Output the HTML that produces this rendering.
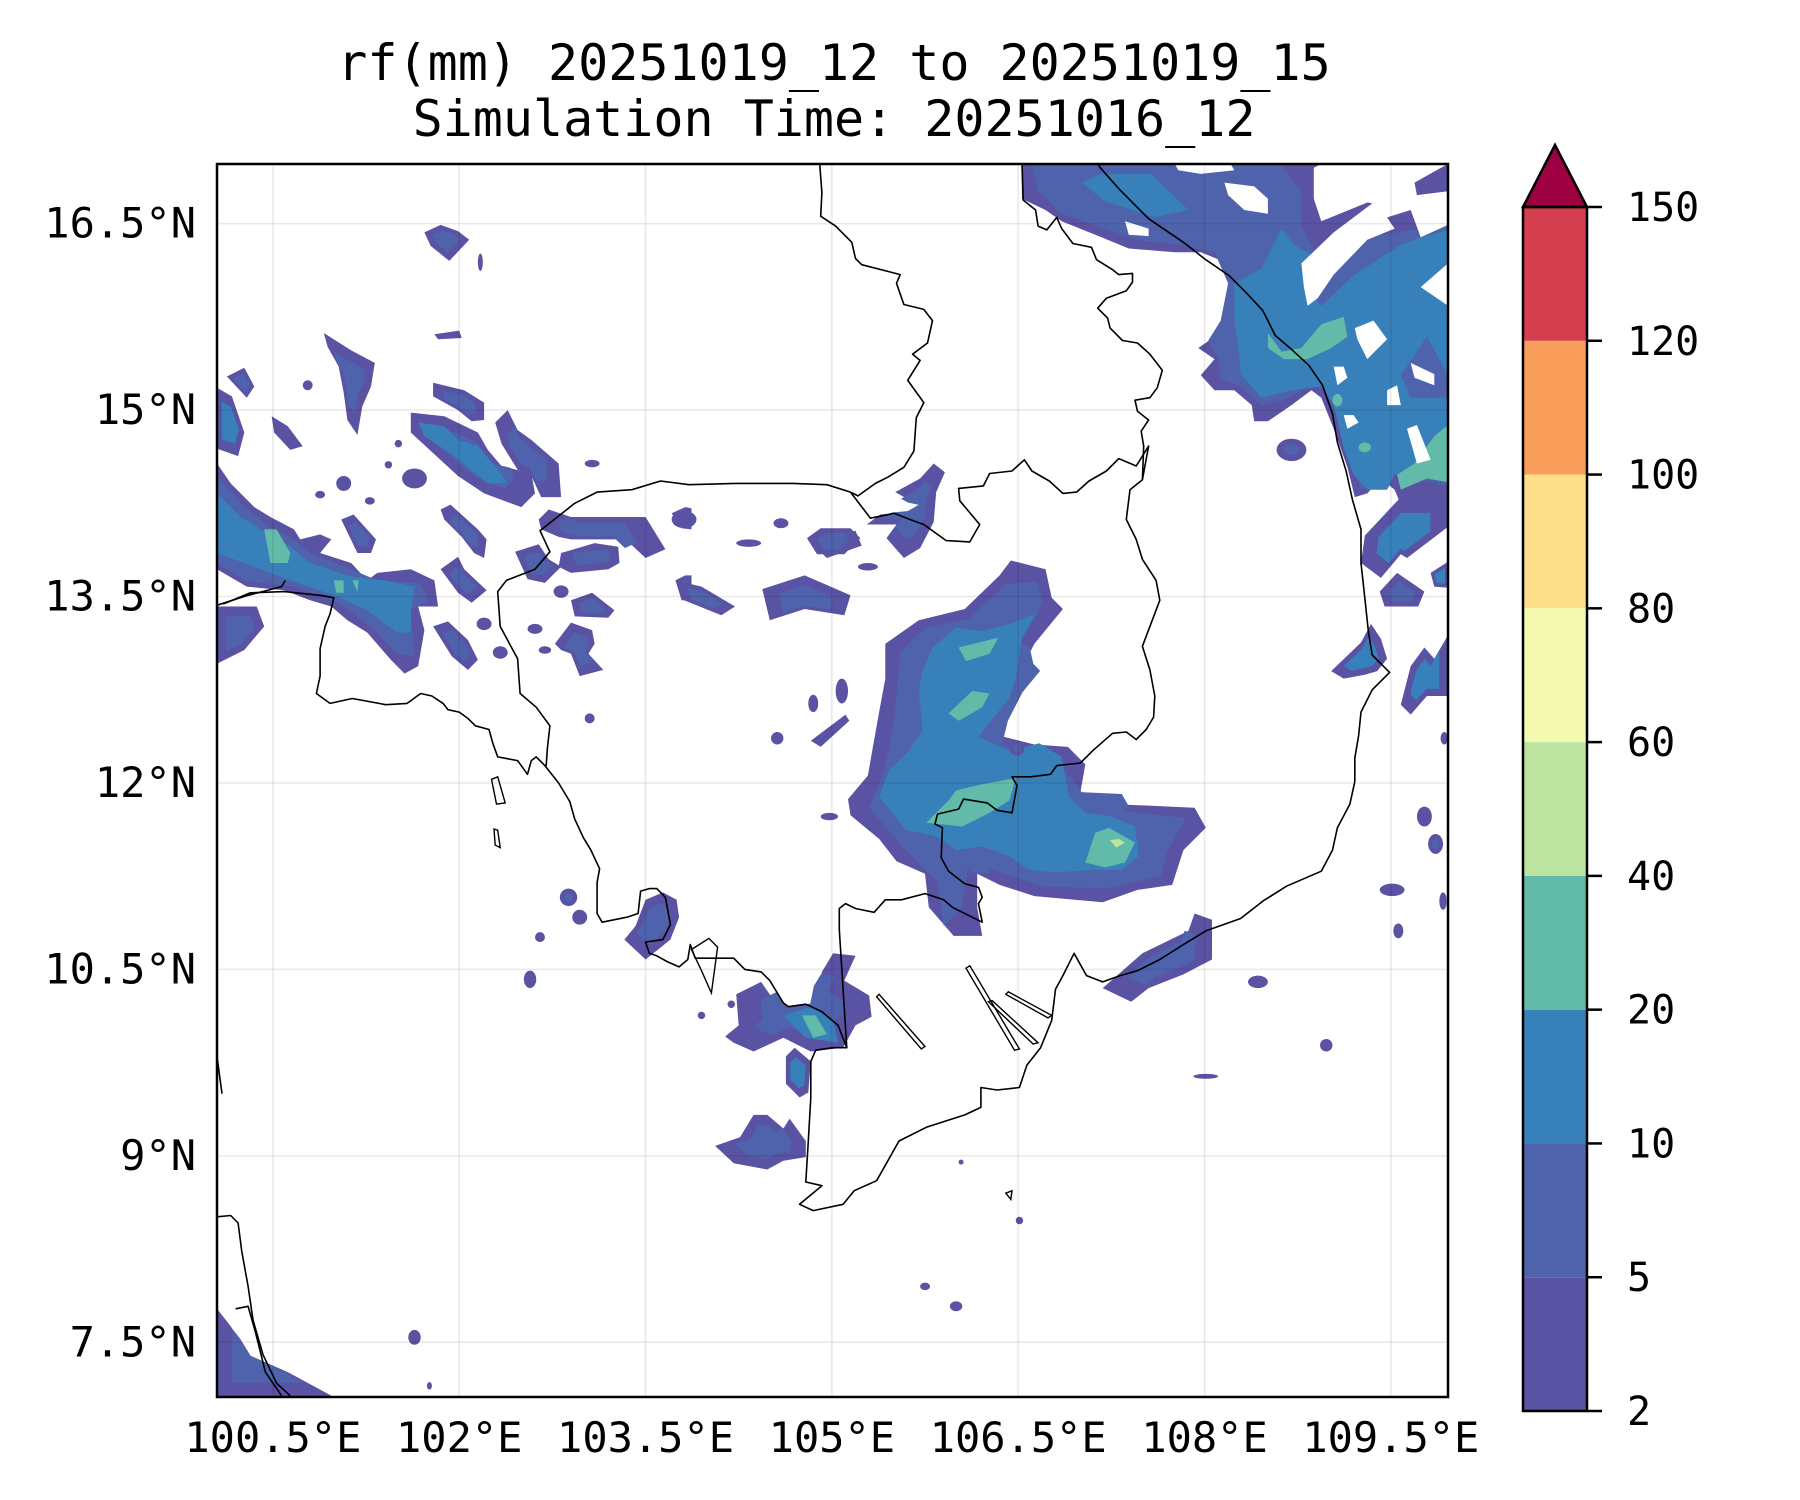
<!DOCTYPE html>
<html><head><meta charset="utf-8">
<style>
html,body{margin:0;padding:0;background:#fff;}
svg{display:block;}
text{font-family:"DejaVu Sans Mono","Liberation Mono",monospace;fill:#000;}
</style></head>
<body>
<svg id="chart" width="1800" height="1500" viewBox="0 0 1800 1500" xmlns="http://www.w3.org/2000/svg">
<defs><clipPath id="plotclip"><rect x="217" y="164" width="1231" height="1233"/></clipPath></defs>
<rect x="0" y="0" width="1800" height="1500" fill="#fff"/>
<text x="834" y="80" font-size="50" text-anchor="middle">rf(mm) 20251019_12 to 20251019_15</text>
<text x="834" y="136" font-size="50" text-anchor="middle">Simulation Time: 20251016_12</text>
<g id="rain" clip-path="url(#plotclip)"></g>
<g id="grid" clip-path="url(#plotclip)"></g>
<g id="lines" clip-path="url(#plotclip)"></g>
<rect x="217" y="164" width="1231" height="1233" fill="none" stroke="#000" stroke-width="2.5"/>
<g id="ticks"></g>
<g id="cbar"></g>
</svg>
<script>
const lonTicks = [100.5, 102, 103.5, 105, 106.5, 108, 109.5];
const lonTickLabels = ["100.5°E","102°E","103.5°E","105°E","106.5°E","108°E","109.5°E"];
const latTicks = [16.5, 15, 13.5, 12, 10.5, 9, 7.5];
const latTickLabels = ["16.5°N","15°N","13.5°N","12°N","10.5°N","9°N","7.5°N"];
const cbarLevels = [2, 5, 10, 20, 40, 60, 80, 100, 120, 150];
const levelColors = ["#5a52a3","#4e63ac","#3880b9","#62baa9","#bde3a0","#f3f9b0","#fdde8b","#f99d5a","#d53e4f"];
const extendColor = "#9e0142";

const rainLevel1 = [
 [2,[[105.43,13.12],[105.70,13.31],[106.07,13.40],[106.35,13.67],[106.44,13.79],[106.72,13.72],[106.77,13.49],[106.86,13.40],[106.63,13.12],[106.44,12.75],[106.35,12.38],[106.63,12.31],[106.90,12.29],[107.04,12.15],[107.00,11.92],[107.27,11.83],[107.92,11.80],[108.01,11.64],[107.83,11.46],[107.74,11.18],[107.46,11.14],[107.18,11.04],[106.63,11.09],[106.35,11.18],[106.17,11.27],[106.17,11.00],[106.21,10.77],[105.98,10.77],[105.78,11.00],[105.75,11.27],[105.52,11.37],[105.38,11.55],[105.15,11.74],[105.13,11.87],[105.29,12.06],[105.33,12.29],[105.38,12.57],[105.43,12.84]]],
 [2,[[101.72,16.43],[101.85,16.49],[101.99,16.44],[102.08,16.37],[101.92,16.20],[101.77,16.32]]],
 [0,[[101.80,15.61],[102.00,15.64],[102.02,15.58],[101.83,15.57]]],
 [2,[[100.91,15.62],[101.13,15.48],[101.32,15.38],[101.29,15.19],[101.22,15.03],[101.18,14.80],[101.10,14.92],[101.07,15.14],[101.03,15.35],[100.94,15.51]]],
 [3,[[100.05,15.18],[100.17,15.11],[100.27,14.82],[100.22,14.63],[100.05,14.69]]],
 [2,[[100.13,15.27],[100.27,15.34],[100.35,15.19],[100.29,15.10]]],
 [0,[[100.49,14.95],[100.62,14.87],[100.74,14.71],[100.64,14.68],[100.51,14.82]]],
 [2,[[101.61,14.98],[101.88,14.95],[102.15,14.82],[102.23,14.68],[102.34,14.55],[102.58,14.49],[102.61,14.33],[102.50,14.22],[102.20,14.33],[101.99,14.47],[101.61,14.82]]],
 [2,[[101.79,15.22],[102.04,15.16],[102.20,15.06],[102.20,14.92],[102.10,14.91],[101.99,15.00],[101.79,15.11]]],
 [2,[[102.29,14.90],[102.39,15.00],[102.47,14.84],[102.58,14.76],[102.80,14.57],[102.82,14.30],[102.66,14.30],[102.58,14.47],[102.47,14.52],[102.34,14.73]]],
 [0,[[100.05,14.57],[100.16,14.41],[100.35,14.22],[100.48,14.14],[100.67,14.04],[100.72,13.96],[100.88,14.00],[100.97,13.96],[100.88,13.85],[101.13,13.77],[101.26,13.63],[101.34,13.69],[101.61,13.72],[101.80,13.63],[101.83,13.42],[101.67,13.42],[101.72,13.23],[101.67,12.94],[101.56,12.88],[101.45,12.99],[101.26,13.21],[101.10,13.31],[100.97,13.42],[100.80,13.47],[100.59,13.55],[100.29,13.58],[100.05,13.72]]],
 [2,[[100.05,13.42],[100.37,13.42],[100.43,13.26],[100.27,13.07],[100.05,12.96]]],
 [2,[[101.05,14.12],[101.15,14.16],[101.33,13.96],[101.29,13.85],[101.18,13.85]]],
 [2,[[101.85,14.20],[101.93,14.24],[102.15,14.04],[102.22,13.96],[102.20,13.81],[102.12,13.85],[102.02,13.98],[101.88,14.12]]],
 [2,[[101.85,13.72],[101.99,13.82],[102.04,13.72],[102.22,13.55],[102.10,13.45],[101.99,13.53]]],
 [2,[[101.79,13.26],[101.91,13.30],[102.07,13.15],[102.15,12.99],[102.07,12.91],[101.94,13.02]]],
 [2,[[102.64,14.12],[102.72,14.20],[102.90,14.14],[103.50,14.14],[103.66,13.88],[103.50,13.81],[103.34,13.96],[102.90,13.96],[102.80,13.98],[102.66,14.04]]],
 [2,[[102.45,13.86],[102.64,13.92],[102.72,13.80],[102.82,13.74],[102.69,13.61],[102.55,13.64]]],
 [0,[[102.82,13.85],[103.09,13.93],[103.28,13.90],[103.29,13.77],[103.20,13.72],[102.90,13.69],[102.80,13.74]]],
 [2,[[102.90,13.47],[103.07,13.53],[103.25,13.39],[103.20,13.33],[102.93,13.34]]],
 [2,[[102.77,13.12],[102.90,13.29],[103.07,13.23],[103.09,13.12],[103.04,13.04],[103.16,12.91],[102.97,12.86],[102.90,13.04],[102.82,13.07]]],
 [2,[[103.71,14.17],[103.82,14.22],[103.87,14.21],[103.87,14.04],[103.79,14.05]]],
 [2,[[103.74,13.63],[103.82,13.67],[103.87,13.67],[103.87,13.47],[103.79,13.47]]],
 [2,[[103.74,13.63],[103.95,13.58],[104.22,13.42],[104.11,13.35],[103.81,13.47]]],
 [2,[[104.44,13.56],[104.78,13.67],[105.15,13.51],[105.10,13.35],[104.78,13.40],[104.50,13.31]]],
 [2,[[104.81,13.95],[105.19,14.03],[105.24,13.91],[104.96,13.81]]],
 [2,[[105.51,14.34],[105.71,14.45],[105.82,14.57],[105.91,14.50],[105.84,14.34],[105.82,14.10],[105.71,13.89],[105.58,13.81],[105.44,13.97],[105.52,14.08],[105.28,14.08],[105.39,14.16],[105.60,14.18],[105.74,14.26],[105.60,14.29]]],
 [2,[[104.80,13.97],[104.91,14.05],[105.15,14.05],[105.23,13.97],[105.10,13.84],[104.88,13.84]]],
 [0,[[104.83,12.34],[105.11,12.55],[105.14,12.50],[104.91,12.29]]],
 [2,[[103.33,10.74],[103.42,10.85],[103.50,11.06],[103.64,11.12],[103.75,11.06],[103.77,10.92],[103.70,10.74],[103.50,10.58]]],
 [2,[[104.14,9.96],[104.25,10.05],[104.23,10.30],[104.43,10.40],[104.52,10.27],[104.61,10.20],[104.87,10.23],[104.92,10.48],[105.01,10.63],[105.19,10.61],[105.10,10.41],[105.30,10.29],[105.32,10.12],[105.19,10.05],[105.09,9.87],[104.83,9.84],[104.61,9.95],[104.37,9.84],[104.21,9.91]]],
 [3,[[104.63,9.80],[104.70,9.87],[104.83,9.76],[104.81,9.51],[104.74,9.47],[104.63,9.58]]],
 [2,[[104.26,9.15],[104.37,9.33],[104.48,9.33],[104.61,9.22],[104.66,9.30],[104.79,9.12],[104.79,8.99],[104.61,8.96],[104.48,8.89],[104.21,8.94],[104.06,9.08]]],
 [2,[[107.18,10.35],[107.50,10.63],[107.87,10.81],[107.92,10.95],[108.06,10.90],[108.06,10.58],[107.83,10.46],[107.55,10.35],[107.41,10.24]]],
 [2,[[100.05,7.77],[100.16,7.63],[100.30,7.40],[100.62,7.26],[100.99,7.06],[100.05,7.06]]],
 [0,[[106.53,16.98],[106.53,16.70],[106.72,16.61],[106.85,16.52],[107.17,16.39],[107.39,16.30],[107.76,16.27],[107.97,16.27],[108.19,16.18],[108.21,15.99],[108.19,15.78],[108.08,15.59],[107.95,15.50],[108.08,15.41],[107.97,15.28],[108.08,15.16],[108.24,15.16],[108.38,15.04],[108.40,14.91],[108.51,14.91],[108.70,15.04],[108.86,15.16],[108.94,15.10],[109.04,14.85],[109.15,14.54],[109.21,14.30],[109.31,14.33],[109.42,14.45],[109.53,14.36],[109.58,14.24],[109.66,14.18],[109.96,14.30],[109.96,16.98]]],
 [3,[[109.26,13.77],[109.29,13.99],[109.58,14.30],[109.96,14.30],[109.96,14.06],[109.63,13.81],[109.58,13.84],[109.42,13.65]]],
 [2,[[109.41,13.54],[109.55,13.69],[109.77,13.54],[109.72,13.42],[109.45,13.42]]],
 [3,[[109.82,13.69],[109.96,13.78],[109.96,13.57],[109.85,13.58]]],
 [3,[[109.02,12.90],[109.26,13.13],[109.34,13.28],[109.42,13.16],[109.47,13.00],[109.39,12.90],[109.29,12.87],[109.12,12.84]]],
 [3,[[109.58,12.63],[109.66,12.94],[109.77,13.09],[109.85,13.00],[109.96,13.19],[109.96,12.70],[109.79,12.70],[109.66,12.55]]]
];
const rainLevel2 = [
 [[105.55,13.05],[105.75,13.25],[106.10,13.32],[106.40,13.60],[106.65,13.62],[106.70,13.45],[106.50,13.10],[106.30,12.70],[106.25,12.35],[106.70,12.22],[106.92,12.05],[107.10,11.80],[107.85,11.72],[107.70,11.45],[107.65,11.25],[107.20,11.15],[106.70,11.17],[106.30,11.30],[106.10,11.35],[106.05,11.00],[105.90,10.85],[105.85,11.20],[105.60,11.45],[105.30,11.80],[105.42,12.10],[105.50,12.50]],
 [[100.05,14.47],[100.27,14.22],[100.48,14.06],[100.67,13.96],[100.80,13.85],[101.13,13.72],[101.34,13.63],[101.69,13.61],[101.75,13.47],[101.61,13.39],[101.64,13.02],[101.50,13.04],[101.29,13.26],[101.02,13.45],[100.67,13.58],[100.27,13.63],[100.05,13.77]],
 [[102.90,13.85],[103.20,13.88],[103.22,13.78],[102.95,13.75]],
 [[106.61,16.98],[106.66,16.76],[106.85,16.58],[107.22,16.45],[107.49,16.36],[107.81,16.33],[108.08,16.27],[108.19,16.02],[108.13,15.72],[108.03,15.56],[108.11,15.41],[108.13,15.25],[108.29,15.19],[108.46,15.04],[108.67,15.10],[108.94,15.25],[109.07,15.01],[109.20,14.54],[109.26,14.36],[109.45,14.51],[109.96,14.39],[109.96,16.52],[109.74,16.46],[109.31,16.39],[108.91,16.24],[108.78,16.48],[108.78,16.76],[108.64,16.94],[108.64,16.98]]
];
const rainLevel3 = [
 [[105.81,13.09],[106.00,13.25],[106.21,13.22],[106.43,13.28],[106.64,13.36],[106.53,13.17],[106.48,12.85],[106.43,12.69],[106.18,12.37],[106.43,12.26],[106.67,12.32],[106.85,12.21],[106.91,11.89],[107.04,11.76],[107.25,11.73],[107.44,11.65],[107.47,11.41],[107.33,11.30],[107.07,11.30],[106.80,11.28],[106.59,11.30],[106.43,11.41],[106.21,11.49],[106.00,11.46],[105.84,11.57],[105.60,11.62],[105.38,11.89],[105.46,12.10],[105.62,12.26],[105.73,12.42],[105.70,12.74],[105.73,12.90]],
 [[101.67,14.90],[101.88,14.87],[101.99,14.76],[102.15,14.71],[102.29,14.55],[102.39,14.41],[102.23,14.41],[101.96,14.63],[101.72,14.79]],
 [[100.05,14.33],[100.24,14.14],[100.45,14.01],[100.64,13.90],[100.80,13.77],[101.13,13.66],[101.40,13.63],[101.64,13.58],[101.61,13.39],[101.61,13.21],[101.50,13.21],[101.26,13.39],[101.02,13.50],[100.70,13.61],[100.40,13.72],[100.05,13.85]],
 [[104.61,10.13],[104.83,10.20],[105.01,10.09],[105.05,9.91],[104.79,9.95]],
 [[107.01,16.83],[107.17,16.90],[107.57,16.90],[107.87,16.61],[107.60,16.55],[107.20,16.68]],
 [[108.24,16.02],[108.46,16.14],[108.62,16.46],[108.72,16.33],[108.88,16.24],[108.80,15.99],[108.94,15.84],[109.21,16.09],[109.58,16.33],[109.74,16.39],[109.96,16.45],[109.96,15.28],[109.79,15.59],[109.63,15.35],[109.58,15.28],[109.66,15.10],[109.96,15.10],[109.96,14.45],[109.71,14.54],[109.53,14.48],[109.47,14.36],[109.31,14.36],[109.20,14.48],[109.12,14.70],[109.04,15.04],[108.94,15.19],[108.70,15.16],[108.46,15.10],[108.29,15.29],[108.27,15.53],[108.24,15.72]]
];
const rainLevel4 = [
 [[106.02,13.09],[106.34,13.17],[106.27,13.04],[106.08,12.98]],
 [[105.94,12.56],[106.13,12.74],[106.27,12.72],[106.21,12.61],[106.02,12.50]],
 [[105.76,11.68],[105.94,11.86],[106.00,11.94],[106.21,11.99],[106.48,12.04],[106.43,11.86],[106.27,11.76],[106.05,11.65]],
 [[107.04,11.36],[107.12,11.60],[107.23,11.64],[107.44,11.52],[107.36,11.36],[107.20,11.32]],
 [[100.43,14.04],[100.53,14.04],[100.64,13.85],[100.62,13.77],[100.48,13.77]],
 [[100.99,13.63],[101.07,13.63],[101.07,13.53],[101.01,13.53]],
 [[101.14,13.63],[101.19,13.63],[101.18,13.54]],
 [[104.76,10.13],[104.87,10.13],[104.96,9.98],[104.85,9.95]],
 [[108.51,15.62],[108.62,15.47],[108.78,15.50],[108.94,15.69],[109.12,15.75],[109.15,15.59],[109.02,15.50],[108.83,15.41],[108.64,15.41],[108.51,15.50]],
 [[109.55,14.48],[109.69,14.57],[109.85,14.79],[109.96,14.88],[109.96,14.42],[109.79,14.45],[109.58,14.36]]
];
const rainLevel5 = [
 [[107.24,11.54],[107.31,11.55],[107.36,11.52],[107.29,11.48]]
];
const rainHoles = [
 [[107.76,16.98],[108.21,16.98],[108.24,16.93],[107.97,16.90],[107.79,16.93]],
 [[108.16,16.83],[108.40,16.80],[108.51,16.70],[108.51,16.58],[108.32,16.61],[108.19,16.73]],
 [[107.36,16.52],[107.55,16.46],[107.55,16.40],[107.39,16.41]],
 [[108.78,16.18],[109.04,16.43],[109.36,16.67],[109.63,16.70],[109.66,16.61],[109.47,16.55],[109.53,16.46],[109.31,16.37],[109.04,16.09],[108.91,15.90],[108.83,15.84],[108.80,15.99]],
 [[108.94,16.98],[109.96,16.98],[109.85,16.92],[109.69,16.83],[109.71,16.73],[109.96,16.76],[109.96,16.49],[109.74,16.39],[109.66,16.61],[109.31,16.67],[108.94,16.52],[108.88,16.70],[108.88,16.95]],
 [[109.21,15.66],[109.36,15.72],[109.47,15.57],[109.31,15.41],[109.23,15.57]],
 [[109.04,15.35],[109.12,15.35],[109.15,15.26],[109.07,15.20]],
 [[109.47,15.16],[109.55,15.20],[109.58,15.04],[109.47,15.04]],
 [[109.12,14.96],[109.20,14.96],[109.24,14.90],[109.15,14.85]],
 [[109.66,15.38],[109.85,15.29],[109.85,15.20],[109.69,15.26]],
 [[109.74,15.99],[109.96,16.18],[109.96,15.84]],
 [[109.63,14.85],[109.71,14.88],[109.82,14.60],[109.71,14.57]]
];
const rainCells = [
 [102.17,16.19,0.02,0.07,1],[101.07,14.41,0.06,0.06,1],[100.88,14.32,0.04,0.03,1],[101.28,14.27,0.04,0.03,1],
 [101.64,14.45,0.10,0.08,1],[101.43,14.56,0.03,0.03,1],[101.51,14.73,0.03,0.03,1],[100.78,15.20,0.04,0.04,1],
 [102.20,13.28,0.06,0.05,1],[102.33,13.05,0.06,0.05,1],[102.82,13.54,0.06,0.05,1],[102.61,13.24,0.06,0.04,1],
 [102.69,13.07,0.05,0.03,1],[103.07,14.57,0.06,0.03,1],[103.81,14.12,0.10,0.07,1],[104.33,13.93,0.10,0.03,1],
 [104.59,14.09,0.06,0.04,1],[105.29,13.74,0.08,0.03,1],[105.08,12.74,0.05,0.10,1],[104.85,12.64,0.04,0.07,1],
 [106.49,12.28,0.06,0.06,2],[104.56,12.36,0.05,0.05,1],[104.98,11.73,0.07,0.03,1],[102.88,11.08,0.07,0.07,2],
 [102.97,10.92,0.06,0.06,1],[102.65,10.76,0.04,0.04,1],[102.57,10.42,0.05,0.07,1],[103.95,10.13,0.03,0.03,1],
 [104.19,10.22,0.03,0.03,1],[103.05,12.52,0.04,0.04,1],[108.43,10.40,0.08,0.05,1],[108.98,9.89,0.05,0.05,1],
 [108.01,9.64,0.10,0.02,1],[108.70,14.68,0.12,0.09,2],[109.77,11.73,0.06,0.08,1],[109.86,11.51,0.06,0.08,2],
 [109.51,11.14,0.10,0.05,1],[109.56,10.81,0.04,0.06,1],[109.92,11.05,0.03,0.07,1],[109.93,12.36,0.03,0.05,1],
 [109.07,15.08,0.04,0.05,4],[109.29,14.70,0.05,0.04,4],[101.64,7.54,0.05,0.06,1],[101.76,7.15,0.02,0.03,1],
 [105.75,7.95,0.04,0.03,1],[106.00,7.79,0.05,0.04,1],[106.04,8.95,0.02,0.02,1],[106.51,8.48,0.03,0.03,1]
];
const coastline = [
 [100.10,13.44],[100.32,13.53],[100.59,13.54],[100.88,13.51],[100.99,13.49],[100.96,13.36],[100.92,13.26],[100.88,13.08],[100.88,12.86],[100.85,12.72],[100.96,12.64],[101.14,12.68],[101.25,12.66],[101.41,12.63],[101.58,12.64],[101.69,12.72],[101.78,12.70],[101.87,12.64],[101.91,12.59],[102.00,12.57],[102.07,12.52],[102.13,12.46],[102.24,12.43],[102.27,12.32],[102.31,12.21],[102.47,12.18],[102.55,12.07],[102.58,12.18],[102.62,12.21],[102.69,12.14],[102.80,12.00],[102.89,11.85],[102.93,11.71],[103.00,11.56],[103.06,11.46],[103.13,11.31],[103.11,11.20],[103.11,10.95],[103.15,10.88],[103.35,10.92],[103.44,10.95],[103.46,11.13],[103.53,11.15],[103.59,11.15],[103.66,11.08],[103.68,10.97],[103.70,10.86],[103.64,10.74],[103.50,10.72],[103.53,10.63],[103.59,10.61],[103.68,10.56],[103.77,10.52],[103.84,10.58],[103.86,10.70],[103.90,10.59],[104.21,10.59],[104.30,10.50],[104.43,10.48],[104.50,10.41],[104.61,10.23],[104.65,10.20],[104.79,10.22],[104.92,10.16],[105.05,10.05],[105.12,9.87],
 [105.01,9.87],[104.87,9.85],[104.83,9.76],[104.83,9.47],[104.81,9.12],[104.79,8.79],[104.92,8.76],[104.74,8.61],[104.85,8.56],[105.09,8.61],[105.18,8.72],[105.36,8.80],[105.54,9.12],[105.76,9.23],[106.07,9.33],[106.20,9.39],[106.20,9.55],[106.33,9.53],[106.51,9.55],[106.57,9.73],[106.68,9.87],[106.77,10.09],[106.80,10.34],[106.86,10.45],[106.95,10.63],[107.05,10.45],[107.18,10.40],[107.32,10.45],[107.46,10.49],[107.64,10.58],[107.83,10.70],[108.01,10.81],[108.29,10.91],[108.47,11.05],[108.66,11.17],[108.94,11.29],[109.03,11.46],[109.07,11.64],[109.17,11.83],[109.21,12.01],[109.21,12.20],[109.24,12.38],[109.26,12.57],[109.35,12.75],[109.49,12.89],[109.35,13.03],[109.32,13.21],[109.29,13.49],[109.26,13.77],[109.26,14.04],[109.19,14.28],[109.14,14.51],[109.07,14.74],[109.03,14.97],[108.95,15.20],[108.84,15.36],[108.71,15.48],[108.57,15.60],[108.47,15.80],[108.34,15.94],[108.20,16.08],[108.01,16.21],[107.83,16.35],[107.55,16.54],[107.32,16.77],[107.16,16.95],[107.13,17.00]
];
const borderThaiCambodia = [[102.69,12.14],[102.70,12.14],[102.71,12.28],[102.73,12.46],[102.62,12.61],[102.49,12.72],[102.47,13.00],[102.33,13.26],[102.31,13.54],[102.38,13.63],[102.61,13.72],[102.73,13.86],[102.65,14.03],[102.79,14.14],[102.93,14.25],[103.11,14.34],[103.39,14.36],[103.62,14.43],[103.85,14.40],[104.22,14.41],[104.69,14.41],[104.96,14.40],[105.15,14.34]];
const borderLaosNorth = [[104.90,17.00],[104.92,16.75],[104.91,16.56],[105.03,16.48],[105.16,16.35],[105.19,16.22],[105.24,16.17],[105.55,16.09],[105.52,16.02],[105.58,15.85],[105.74,15.81],[105.81,15.72],[105.77,15.54],[105.65,15.45],[105.71,15.40],[105.61,15.24],[105.74,15.06],[105.68,14.94],[105.66,14.67],[105.58,14.54],[105.45,14.46],[105.35,14.41],[105.21,14.31],[105.15,14.34]];
const borderCambodiaLaosVN = [[105.15,14.34],[105.31,14.13],[105.50,14.17],[105.63,14.12],[105.74,14.08],[105.92,13.95],[106.11,13.94],[106.19,14.08],[106.03,14.27],[106.02,14.37],[106.22,14.39],[106.27,14.49],[106.45,14.51],[106.55,14.60],[106.61,14.51],[106.75,14.43],[106.86,14.33],[106.97,14.34],[107.07,14.43],[107.21,14.51],[107.31,14.61],[107.45,14.55],[107.55,14.71],[107.50,14.44],[107.40,14.36],[107.37,14.12],[107.45,13.96],[107.50,13.80],[107.61,13.63],[107.64,13.47],[107.50,13.10],[107.56,12.91],[107.60,12.70],[107.59,12.53],[107.53,12.43],[107.45,12.35],[107.37,12.41],[107.26,12.40],[107.10,12.26],[107.00,12.16],[106.81,12.14],[106.76,12.07],[106.60,12.05],[106.45,12.05],[106.49,11.98],[106.45,11.76],[106.33,11.78],[106.25,11.84],[106.06,11.87],[106.02,11.79],[105.85,11.75],[105.83,11.67],[105.89,11.64],[105.88,11.40],[105.94,11.29],[106.07,11.19],[106.18,11.16],[106.21,11.08],[106.18,11.03],[106.21,10.88],[106.13,10.92],[105.97,11.00],[105.90,11.06],[105.75,11.11],[105.56,11.06],[105.43,11.06],[105.34,10.96],[105.19,10.99],[105.11,11.03],[105.06,10.99],[105.06,10.82],[105.12,9.87]];
const borderVNLaosNorth = [[106.53,17.00],[106.54,16.69],[106.64,16.61],[106.66,16.48],[106.73,16.45],[106.81,16.55],[106.85,16.46],[106.94,16.34],[107.09,16.31],[107.13,16.21],[107.26,16.13],[107.31,16.09],[107.42,16.10],[107.42,16.03],[107.37,15.96],[107.21,15.90],[107.14,15.82],[107.22,15.74],[107.24,15.66],[107.34,15.56],[107.46,15.54],[107.56,15.45],[107.66,15.32],[107.62,15.18],[107.56,15.10],[107.44,15.08],[107.46,14.99],[107.55,14.92],[107.49,14.83],[107.51,14.71],[107.50,14.44]];
const coastMalayNorth = [[100.05,8.51],[100.16,8.52],[100.22,8.46],[100.25,8.23],[100.30,7.95],[100.34,7.68],[100.42,7.40],[100.53,7.17],[100.64,7.07]];
const coastMalayInner = [[100.20,7.77],[100.30,7.79],[100.36,7.58],[100.44,7.26],[100.57,7.07]];
const coastThaiWest = [[100.05,9.80],[100.09,9.50]];
const coastThaiGulfNorth = [[100.05,13.43],[100.30,13.51],[100.57,13.58],[100.60,13.63]];
const islands = [
 [[103.87,10.66],[104.01,10.75],[104.08,10.68],[104.03,10.31],[103.95,10.49]],
 [[102.26,12.03],[102.31,12.05],[102.37,11.84],[102.30,11.83]],
 [[102.28,11.63],[102.31,11.62],[102.33,11.48],[102.29,11.50]],
 [[105.38,10.30],[105.75,9.88],[105.72,9.86],[105.36,10.28]],
 [[106.11,10.53],[106.51,9.86],[106.47,9.85],[106.08,10.51]],
 [[106.29,10.25],[106.66,9.91],[106.62,9.90],[106.26,10.24]],
 [[106.42,10.32],[106.77,10.13],[106.74,10.11],[106.40,10.30]],
 [[106.40,8.70],[106.45,8.72],[106.44,8.65]]
];

const LON0 = 100.05, LON1 = 109.96, LAT0 = 7.06, LAT1 = 16.98;
const PX0 = 217, PX1 = 1448, PY0 = 164, PY1 = 1397;
function xS(lon){ return PX0 + (lon - LON0) / (LON1 - LON0) * (PX1 - PX0); }
function yS(lat){ return PY0 + (LAT1 - lat) / (LAT1 - LAT0) * (PY1 - PY0); }
const NS = "http://www.w3.org/2000/svg";
function mk(tag, attrs){ const e = document.createElementNS(NS, tag); for (const k in attrs) e.setAttribute(k, attrs[k]); return e; }
function pathD(pts, close){ return pts.map((p,i)=>(i?"L":"M")+xS(p[0]).toFixed(1)+","+yS(p[1]).toFixed(1)).join("") + (close?"Z":""); }
function shrink(pts, f){ let cx=0, cy=0; pts.forEach(p=>{cx+=p[0];cy+=p[1];}); cx/=pts.length; cy/=pts.length; return pts.map(p=>[cx+(p[0]-cx)*f, cy+(p[1]-cy)*f]); }

const rainG = document.getElementById("rain");
rainLevel1.forEach((item) => {
  const p = mk("path", {d: pathD(item[1], true), fill: levelColors[0]});
  
  
  rainG.appendChild(p);
  if (item[0] > 0) {
    const q = mk("path", {d: pathD(shrink(item[1], 0.62), true), fill: levelColors[item[0]-1]});
    
    
    rainG.appendChild(q);
  }
});
[[rainLevel2,1,'rain-area-5-10mm'],[rainLevel3,2,'rain-area-10-20mm'],[rainLevel4,3,'rain-area-20-40mm'],[rainLevel5,4,'rain-area-40-60mm']].forEach(set => {
  set[0].forEach(pts => {
    const p = mk("path", {d: pathD(pts, true), fill: levelColors[set[1]]});
    
    
    rainG.appendChild(p);
  });
});
rainHoles.forEach(pts => {
  const p = mk("path", {d: pathD(pts, true), fill: "#fff"});
  
  
  rainG.appendChild(p);
});
rainCells.forEach(c => {
  const rx = Math.abs(xS(c[0]+c[2])-xS(c[0])), ry = Math.abs(yS(c[1]+c[3])-yS(c[1]));
  const e = mk("ellipse", {cx: xS(c[0]), cy: yS(c[1]), rx: rx, ry: ry, fill: levelColors[c[4] === 2 ? 0 : c[4]-1]});
  
  
  rainG.appendChild(e);
  if (c[4] === 2) {
    const o = mk("ellipse", {cx: xS(c[0]), cy: yS(c[1]), rx: rx*0.5, ry: ry*0.5, fill: levelColors[1]});
    
    
    rainG.appendChild(o);
  }
});

const gridG = document.getElementById("grid");
lonTicks.forEach(v => {
  const l = mk("line", {x1: xS(v), x2: xS(v), y1: PY0, y2: PY1, stroke: "#000", "stroke-opacity": 0.09, "stroke-width": 1.5});
  
  
  gridG.appendChild(l);
});
latTicks.forEach(v => {
  const l = mk("line", {x1: PX0, x2: PX1, y1: yS(v), y2: yS(v), stroke: "#000", "stroke-opacity": 0.09, "stroke-width": 1.5});
  
  
  gridG.appendChild(l);
});

const linesG = document.getElementById("lines");
[[coastline,'coastline'],[borderThaiCambodia,'border-thailand-cambodia'],[borderLaosNorth,'border-thailand-laos'],[borderCambodiaLaosVN,'border-cambodia-vietnam'],[borderVNLaosNorth,'border-laos-vietnam'],[coastMalayNorth,'coastline-malay'],[coastMalayInner,'coastline-malay-inner'],[coastThaiWest,'coastline-thai-west'],[coastThaiGulfNorth,'coastline-thai-gulf']].forEach(s => {
  const p = mk("path", {d: pathD(s[0], false), fill: "none", stroke: "#000", "stroke-width": 1.6, "stroke-linejoin": "round"});
  
  
  linesG.appendChild(p);
});
islands.forEach(pts => {
  const p = mk("path", {d: pathD(pts, true), fill: "none", stroke: "#000", "stroke-width": 1.4});
  
  
  linesG.appendChild(p);
});

const tickG = document.getElementById("ticks");
lonTicks.forEach((v, i) => {
  const t = mk("text", {x: xS(v), y: 1452, "font-size": 42, "text-anchor": "middle"});
  t.textContent = lonTickLabels[i];
  
  
  tickG.appendChild(t);
});
latTicks.forEach((v, i) => {
  const t = mk("text", {x: 196, y: yS(v) + 14, "font-size": 42, "text-anchor": "end"});
  t.textContent = latTickLabels[i];
  
  
  tickG.appendChild(t);
});

const cb = document.getElementById("cbar");
const CBX0 = 1523, CBX1 = 1587, CBY0 = 207, CBY1 = 1411;
function cbY(i){ return CBY1 - i * (CBY1 - CBY0) / (cbarLevels.length - 1); }
for (let i = 0; i < cbarLevels.length - 1; i++) {
  const r = mk("rect", {x: CBX0, y: cbY(i+1), width: CBX1 - CBX0, height: cbY(i) - cbY(i+1), fill: levelColors[i]});
  
  
  cb.appendChild(r);
}
const tri = mk("polygon", {points: CBX0+","+CBY0+" "+((CBX0+CBX1)/2)+",145 "+CBX1+","+CBY0, fill: extendColor, stroke: "#000", "stroke-width": 2.5, "stroke-linejoin": "miter"});


cb.appendChild(tri);
const cbo = mk("rect", {x: CBX0, y: CBY0, width: CBX1 - CBX0, height: CBY1 - CBY0, fill: "none", stroke: "#000", "stroke-width": 2.5});


cb.appendChild(cbo);
cbarLevels.forEach((v, i) => {
  const tk = mk("line", {x1: CBX1, x2: CBX1 + 15, y1: cbY(i), y2: cbY(i), stroke: "#000", "stroke-width": 2.5});
  
  
  cb.appendChild(tk);
  const t = mk("text", {x: CBX1 + 40, y: cbY(i) + 14, "font-size": 40});
  t.textContent = String(v);
  
  
  cb.appendChild(t);
});
</script>
</body></html>
